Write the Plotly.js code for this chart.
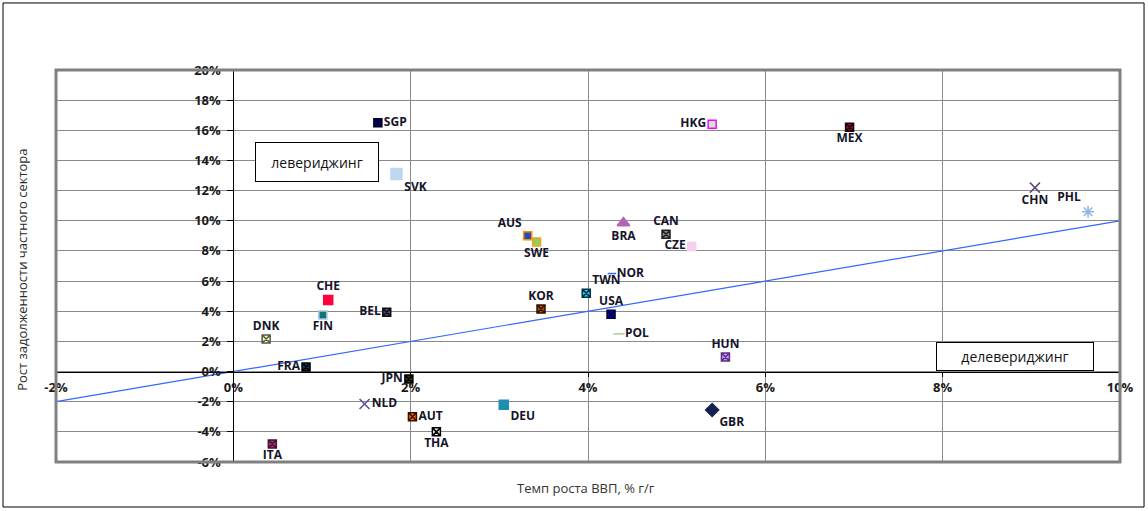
<!DOCTYPE html>
<html>
<head>
<meta charset="utf-8">
<script src="https://cdn.plot.ly/plotly-3.0.1.min.js"></script>
<style>
  body { margin: 0; background: #fff; }
  #chart { width: 1148px; height: 511px; }
</style>
</head>
<body>
<div id="chart"></div>
<script>
// Countries and values, % (x = GDP growth, y = private debt growth)
var countries = ['SGP', 'SVK', 'HKG', 'MEX', 'CHN', 'PHL', 'AUS', 'SWE', 'BRA', 'CAN',
  'CZE', 'NOR', 'TWN', 'KOR', 'USA', 'POL', 'HUN', 'GBR', 'CHE', 'FIN',
  'BEL', 'DNK', 'FRA', 'JPN', 'NLD', 'AUT', 'THA', 'ITA', 'DEU'];
var gdpGrowth = [1.63, 1.84, 5.40, 6.95, 9.04, 9.64, 3.32, 3.42, 4.40, 4.88,
  5.17, 4.27, 3.98, 3.47, 4.26, 4.35, 5.55, 5.40, 1.07, 1.01,
  1.73, 0.37, 0.82, 1.98, 1.48, 2.02, 2.29, 0.44, 3.05];
var debtGrowth = [16.5, 13.1, 16.4, 16.2, 12.2, 10.6, 9.0, 8.6, 9.85, 9.1,
  8.3, 6.5, 5.2, 4.15, 3.8, 2.5, 0.97, -2.55, 4.75, 3.75,
  3.93, 2.16, 0.3, -0.5, -2.15, -3.0, -4.0, -4.8, -2.2];

// Reference line y = x
var trendX = [-2, 10];
var trendY = [-2, 10];

var xTicks = [-2, 0, 2, 4, 6, 8, 10];
var yTicks = [-6, -4, -2, 0, 2, 4, 6, 8, 10, 12, 14, 16, 18, 20];

// Marker styles per country
var symbols = ['square-x', 'square', 'square', 'square-x', 'x-thin-open', 'asterisk-open', 'square', 'square', 'triangle-up', 'square-x',
  'square', 'line-ew-open', 'square-x', 'square-x', 'square-x', 'line-ew-open', 'square-x', 'diamond', 'square', 'square',
  'square-x', 'square-x', 'square-x', 'square-x', 'x-thin-open', 'square-x', 'square-x', 'square-x', 'square'];
var fills = ['#000090', '#bdd7ee', '#cce8cc', '#7a1040', '#604a7b', '#8db4e2', '#1f4fbf', '#92d050', '#b266b2', '#8a8a8a',
  '#f4d0ea', '#3366ff', '#33ccff', '#b84a00', '#0000cc', '#a9d08e', '#cc99ff', '#14224f', '#ff0040', '#1f6f6f',
  '#4b4b6b', '#ffff99', '#0b3a5a', '#33331a', '#5b4b9b', '#ff6600', '#e8f8f8', '#b03070', '#1f8faf'];
var borders = ['#000022', '#bdd7ee', '#ff00ff', '#220008', '#604a7b', '#8db4e2', '#ff8c00', '#f0a030', '#b266b2', '#222222',
  '#f4d0ea', '#3366ff', '#003344', '#2a1000', '#000033', '#a9d08e', '#5b2c82', '#14224f', '#ff0040', '#99ccee',
  '#111111', '#555555', '#000000', '#000000', '#5b4b9b', '#331100', '#000000', '#441133', '#1f8faf'];
var sizes = [8, 11, 8, 8, 10, 10, 8, 8, 11, 8,
  8, 6, 8, 8, 8, 8, 8, 10, 9, 8,
  8, 8, 8, 8, 10, 8, 8, 8, 9];
var labelPos = ['middle right', 'bottom right', 'middle left', 'bottom center', 'bottom center', 'top left', 'top left', 'bottom center', 'bottom center', 'top center',
  'middle left', 'middle right', 'top right', 'top center', 'top center', 'middle right', 'top center', 'bottom right', 'top center', 'bottom center',
  'middle left', 'top center', 'middle left', 'middle left', 'middle right', 'middle right', 'bottom center', 'bottom center', 'bottom right'];

var fontFamily = 'Open Sans, Liberation Sans, sans-serif';

var points = {
  x: gdpGrowth,
  y: debtGrowth,
  text: countries,
  mode: 'markers+text',
  type: 'scatter',
  textposition: labelPos,
  textfont: { family: fontFamily, size: 12, color: '#14142a', weight: 'bold' },
  marker: {
    symbol: symbols,
    color: fills,
    size: sizes,
    opacity: 1,
    line: { color: borders, width: 1.5 }
  },
  cliponaxis: false,
  hoverinfo: 'text'
};

var trend = {
  x: trendX,
  y: trendY,
  mode: 'lines',
  type: 'scatter',
  line: { color: '#3366ff', width: 1.2 },
  hoverinfo: 'skip'
};

var tickFont = { family: fontFamily, size: 13, color: '#1a1a1a', weight: 'bold' };

var layout = {
  width: 1148,
  height: 511,
  margin: { l: 56, r: 28, t: 70, b: 49 },
  paper_bgcolor: '#ffffff',
  plot_bgcolor: '#ffffff',
  showlegend: false,
  xaxis: {
    range: [-2, 10],
    tickvals: xTicks,
    ticktext: xTicks.map(function (v) { return v + '%'; }),
    anchor: 'free',
    position: 6 / 26,
    showline: true,
    linecolor: '#000',
    linewidth: 1,
    ticks: 'outside',
    ticklen: 4,
    tickcolor: '#000',
    showgrid: true,
    gridcolor: '#8a8a8a',
    gridwidth: 1,
    zeroline: false,
    tickfont: tickFont
  },
  yaxis: {
    range: [-6, 20],
    tickvals: yTicks,
    ticktext: yTicks.map(function (v) { return v + '%'; }),
    anchor: 'free',
    position: 2 / 12,
    showline: true,
    linecolor: '#000',
    linewidth: 1,
    ticks: 'outside',
    ticklen: 6,
    tickcolor: '#000',
    ticklabelstandoff: 4,
    showgrid: true,
    gridcolor: '#8a8a8a',
    gridwidth: 1,
    zeroline: false,
    tickfont: tickFont
  },
  shapes: [
    // plot area border
    { type: 'rect', xref: 'paper', yref: 'paper', x0: 0, x1: 1, y0: 0, y1: 1,
      line: { color: '#808080', width: 3 } },
    // outer frame
    { type: 'rect', xref: 'paper', yref: 'paper', x0: -0.0498, x1: 1.0226, y0: -0.1148, y1: 1.171,
      line: { color: '#000', width: 1 } }
  ],
  annotations: [
    { text: 'левериджинг', xref: 'paper', yref: 'paper', x: 0.187, y: 0.816,
      xanchor: 'left', yanchor: 'top', showarrow: false, width: 122, height: 38,
      bgcolor: '#fff', bordercolor: '#000', borderwidth: 1, borderpad: 0,
      font: { family: fontFamily, size: 14, color: '#111' } },
    { text: 'делевериджинг', xref: 'paper', yref: 'paper', x: 0.827, y: 0.306,
      xanchor: 'left', yanchor: 'top', showarrow: false, width: 156, height: 27,
      bgcolor: '#fff', bordercolor: '#000', borderwidth: 1, borderpad: 0,
      font: { family: fontFamily, size: 14, color: '#111' } },
    { text: 'Темп роста ВВП, % г/г', xref: 'paper', yref: 'paper', x: 0.498, y: -0.066,
      xanchor: 'center', yanchor: 'middle', showarrow: false,
      font: { family: fontFamily, size: 13, color: '#333' } },
    { text: 'Рост задолженности частного сектора', xref: 'paper', yref: 'paper', x: -0.032, y: 0.49,
      xanchor: 'center', yanchor: 'middle', showarrow: false, textangle: -90,
      font: { family: fontFamily, size: 13, color: '#2a2a2a' } }
  ]
};

Plotly.newPlot('chart', [trend, points], layout, { staticPlot: true });
</script>
</body>
</html>
